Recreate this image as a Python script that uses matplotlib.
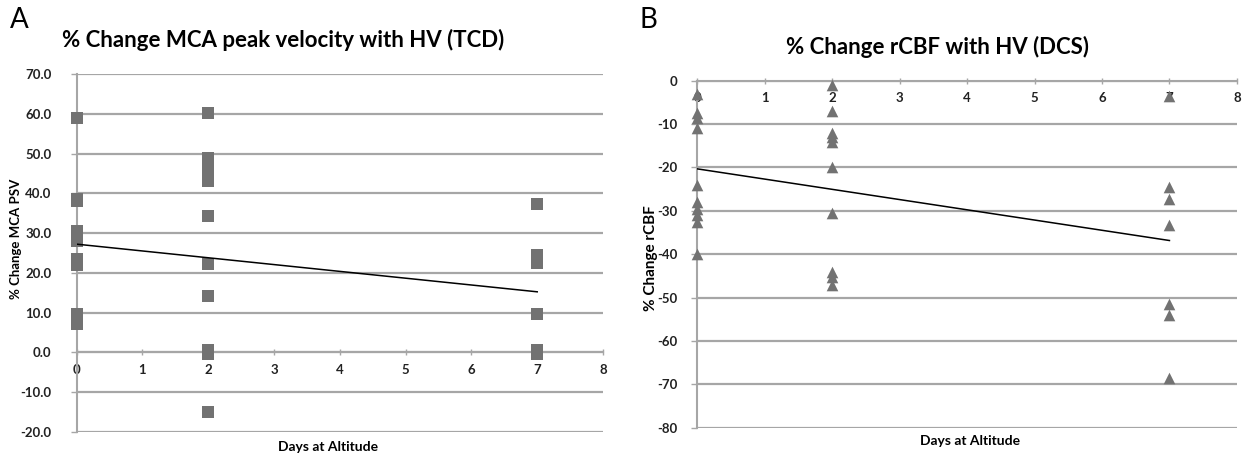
import numpy as np
import matplotlib
matplotlib.use('Agg')
import matplotlib.pyplot as plt

plt.rcParams['font.family'] = ['Lato', 'DejaVu Sans']

# panel A: % change MCA peak systolic velocity (TCD)
days_a = [0]*12 + [2]*12 + [7]*8
psv_change = [59.0, 38.5, 38.0, 30.5, 29.5, 28.0, 23.5, 22.5, 22.0, 9.5, 8.0, 7.0,
              60.3, 49.0, 46.8, 45.0, 43.0, 34.4, 22.2, 14.2, 0.5, 0.0, -0.5, -15.0,
              37.3, 24.5, 23.5, 22.5, 9.7, 0.5, 0.0, -0.5]

# panel B: % change rCBF (DCS)
days_b = [0]*10 + [2]*10 + [7]*7
rcbf_change = [-3.0, -7.5, -8.5, -11.0, -24.0, -28.0, -29.5, -31.0, -32.5, -40.0,
               -1.0, -7.0, -12.0, -13.0, -14.2, -20.0, -30.6, -44.0, -45.3, -47.0,
               -3.5, -24.5, -27.2, -33.3, -51.5, -54.0, -68.6]

grey = '#a6a6a6'
mark = '#727272'

fig = plt.figure(figsize=(12.49, 4.59), dpi=100)


def style(ax, ylim, yticks, fmt, pad):
    ax.set_xlim(0, 8)
    ax.set_ylim(*ylim)
    ax.set_yticks(yticks)
    ax.set_yticklabels([fmt % v for v in yticks])
    ax.set_xticks(range(0, 9))
    for s in ['top', 'right']:
        ax.spines[s].set_visible(False)
    ax.spines['bottom'].set_position(('data', 0))
    ax.spines['bottom'].set_color(grey)
    ax.spines['left'].set_color(grey)
    ax.spines['bottom'].set_linewidth(1.5)
    ax.spines['left'].set_linewidth(1.5)
    ax.yaxis.grid(True, color=grey, linewidth=1.6)
    ax.set_axisbelow(True)
    ax.tick_params(axis='x', direction='inout', length=5, color=grey, width=1,
                   labelsize=9.5, pad=6)
    ax.tick_params(axis='y', direction='out', length=4, color=grey, width=1,
                   labelsize=9.5, pad=pad)
    for t in ax.get_xticklabels() + ax.get_yticklabels():
        t.set_fontweight('bold')
        t.set_color('#222222')


axA = fig.add_axes([0.0614, 0.0595, 0.4214, 0.779])
axA.scatter(days_a, psv_change, marker='s', s=68, color=mark, zorder=3,
            linewidths=0, clip_on=False)
k, b = np.polyfit(days_a, psv_change, 1)
xs = np.array([0, 7])
axA.plot(xs, k*xs + b, color='black', lw=1.1, zorder=4)
style(axA, (-20, 70), list(range(-20, 71, 10)), '%.1f', 14)

axB = fig.add_axes([0.5583, 0.0682, 0.4320, 0.7560])
axB.scatter(days_b, rcbf_change, marker='^', s=70, color=mark, zorder=3,
            linewidths=0, clip_on=False)
k, b = np.polyfit(days_b, rcbf_change, 1)
axB.plot(xs, k*xs + b, color='black', lw=1.1, zorder=4)
style(axB, (-80, 0), list(range(-80, 1, 10)), '%d', 10)

fig.text(283/1249, 1 - 40/459, '% Change MCA peak velocity with HV (TCD)', ha='center',
         va='center', fontsize=16, fontweight='bold')
fig.text(938/1249, 1 - 47/459, '% Change rCBF with HV (DCS)', ha='center',
         va='center', fontsize=16, fontweight='bold')
fig.text(10/1249, 1 - 20/459, 'A', ha='left', va='center', fontsize=20)
fig.text(640/1249, 1 - 20/459, 'B', ha='left', va='center', fontsize=20)

fig.text(16/1249, 1 - 239/459, '% Change MCA PSV', rotation=90, ha='center',
         va='center', fontsize=9.5, fontweight='bold')
fig.text(651/1249, 1 - 258/459, '% Change rCBF', rotation=90, ha='center',
         va='center', fontsize=11, fontweight='bold')
fig.text(328/1249, 1 - 447/459, 'Days at Altitude', ha='center', va='center',
         fontsize=10, fontweight='bold')
fig.text(970/1249, 1 - 441/459, 'Days at Altitude', ha='center', va='center',
         fontsize=10, fontweight='bold')

fig.savefig('out.png', dpi=100)
